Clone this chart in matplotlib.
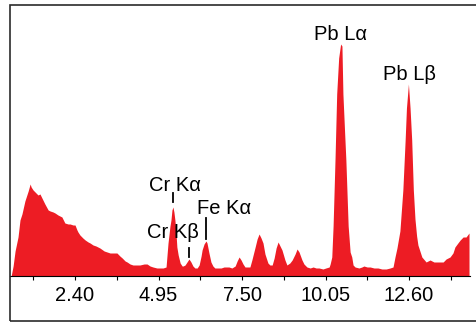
import matplotlib
matplotlib.use('Agg')
import matplotlib.pyplot as plt
from matplotlib.patches import Rectangle

plt.rcParams['font.family'] = ['Liberation Sans', 'DejaVu Sans']

# energy (keV) and intensity
energy = [0.45, 0.51, 0.57, 0.66, 0.72, 0.78, 0.87, 0.97, 1.03, 1.06, 1.12, 1.18, 1.24, 1.27,
          1.33, 1.39, 1.42, 1.48, 1.58, 1.64, 1.73, 1.79, 1.88, 1.94, 2.00, 2.09, 2.19, 2.25,
          2.34, 2.40, 2.46, 2.49, 2.55, 2.64, 2.71, 2.80, 2.86, 2.95, 3.04, 3.16, 3.29, 3.38,
          3.47, 3.56, 3.68, 3.77, 3.84, 3.93, 3.99, 4.08, 4.17, 4.29, 4.38, 4.51, 4.60, 4.69,
          4.78, 4.90, 5.00, 5.09, 5.18, 5.24, 5.30, 5.33, 5.36, 5.39, 5.42, 5.45, 5.48, 5.51,
          5.55, 5.61, 5.67, 5.70, 5.76, 5.82, 5.88, 5.94, 6.00, 6.06, 6.13, 6.19, 6.25, 6.28,
          6.34, 6.40, 6.43, 6.49, 6.55, 6.61, 6.67, 6.77, 6.86, 6.95, 7.04, 7.10, 7.19, 7.29,
          7.35, 7.41, 7.47, 7.53, 7.59, 7.68, 7.74, 7.80, 7.90, 7.96, 8.02, 8.08, 8.14, 8.20,
          8.29, 8.35, 8.42, 8.48, 8.54, 8.60, 8.66, 8.72, 8.81, 8.87, 8.96, 9.03, 9.12, 9.18,
          9.24, 9.33, 9.39, 9.48, 9.58, 9.67, 9.76, 9.85, 9.97, 10.06, 10.16, 10.19, 10.24,
          10.28, 10.34, 10.39, 10.45, 10.51, 10.55, 10.58, 10.63, 10.67, 10.74, 10.80, 10.85,
          10.89, 10.95, 11.07, 11.16, 11.22, 11.32, 11.41, 11.53, 11.65, 11.77, 11.90, 12.02,
          12.11, 12.17, 12.23, 12.32, 12.41, 12.48, 12.52, 12.58, 12.63, 12.68, 12.73, 12.78,
          12.83, 12.87, 12.99, 13.12, 13.24, 13.36, 13.45, 13.54, 13.64, 13.73, 13.85, 13.94,
          14.00, 14.09, 14.16, 14.25, 14.34, 14.43]
counts = [0, 10, 25, 39, 56, 62, 75, 85, 92, 89, 86, 84, 82, 81,
          82, 78, 76, 72, 66, 65, 64, 63, 61, 60, 59, 53, 52, 52,
          51, 51, 46, 44, 41, 38, 36, 34, 33, 31, 30, 28, 25, 24,
          23, 23, 23, 20, 18, 15, 14, 12, 11, 11, 11, 12, 12, 10,
          9, 8, 8, 8, 9, 33, 50, 56, 66, 69, 64, 56, 45, 29,
          21, 13, 10, 10, 11, 14, 17, 14, 10, 8, 8, 11, 20, 26,
          32, 35, 33, 23, 14, 10, 8, 8, 8, 9, 9, 9, 8, 10,
          15, 19, 16, 12, 9, 9, 9, 16, 29, 37, 42, 38, 33, 22,
          13, 11, 11, 18, 28, 34, 30, 26, 16, 11, 13, 16, 22, 27,
          24, 16, 12, 9, 8, 9, 8, 8, 7, 8, 9, 12, 19,
          50, 118, 182, 218, 232, 230, 182, 145, 116, 50, 24, 19,
          11, 9, 8, 9, 10, 9, 9, 8, 8, 7, 7, 8,
          9, 19, 28, 45, 86, 136, 168, 192, 168, 136, 86, 57,
          40, 31, 19, 14, 16, 14, 14, 14, 14, 17, 19, 23,
          29, 33, 36, 39, 39, 43]

major_ticks = [2.40, 4.95, 7.50, 10.05, 12.60]
minor_ticks = [1.125, 3.675, 6.225, 8.775, 11.325, 13.875]

# peak labels: text, x, y of text baseline
labels = [('Pb L\u03b1', 10.51, 236), ('Pb L\u03b2', 12.60, 196),
          ('Cr K\u03b1', 5.45, 85), ('Cr K\u03b2', 5.38, 38), ('Fe K\u03b1', 6.96, 62)]
# marker lines: x, y bottom, y top
markers = [(5.39, 74, 83), (5.88, 19, 28), (6.40, 37, 58)]

red = '#ED1C24'

fig = plt.figure(figsize=(4.76, 3.22), dpi=100)
ax = fig.add_axes([10 / 476, 46 / 322, 460 / 476, 271 / 322])

ax.fill_between(energy, counts, color=red, lw=0)

for txt, x, y in labels:
    ax.text(x, y, txt, ha='center', va='baseline', fontsize=14.5, color='black', zorder=5)
for x, y0, y1 in markers:
    ax.plot([x, x], [y0, y1], color='black', lw=1.3, zorder=5)

ax.set_xlim(0.415, 14.46)
ax.set_ylim(0, 271)
ax.set_xticks(major_ticks)
ax.set_xticklabels(['%.2f' % t for t in major_ticks])
ax.set_xticks(minor_ticks, minor=True)
ax.tick_params(axis='x', which='both', direction='out', length=3, width=0.8, color='black',
               labelsize=14.5, pad=4.5)
ax.set_yticks([])
for side in ['left', 'top', 'right']:
    ax.spines[side].set_visible(False)
ax.spines['bottom'].set_linewidth(0.8)
ax.spines['bottom'].set_color('black')

frame = Rectangle((10 / 476, 1 / 322), 468 / 476, 316 / 322, transform=fig.transFigure,
                  fill=False, edgecolor='#2b2b2b', lw=1.2, clip_on=False)
fig.patches.append(frame)

fig.savefig('out.png', dpi=100)
